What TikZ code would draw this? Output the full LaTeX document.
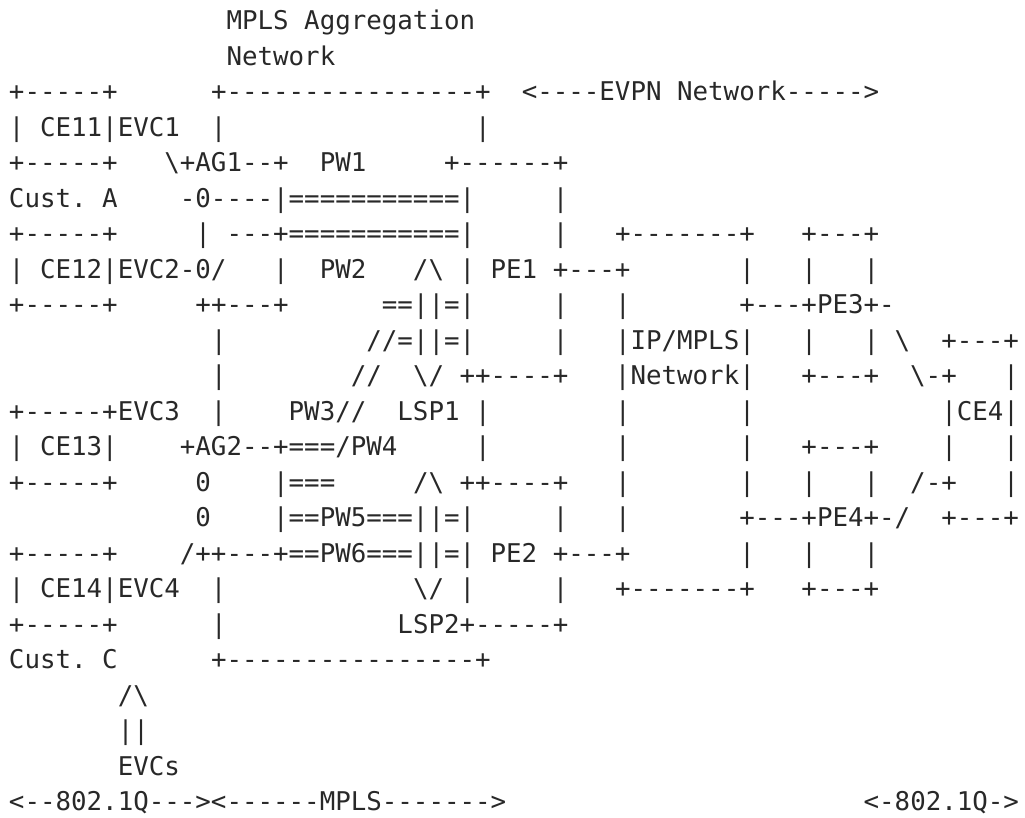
\documentclass[tikz,border=0pt]{standalone}
\usepackage{fontspec}
\setmonofont{DejaVu Sans Mono}
\definecolor{ink}{RGB}{40,40,40}
\def\bs{\textbackslash}
\tikzset{
  asc/.style={anchor=base west, inner sep=0pt, outer sep=0pt,
    font=\ttfamily\fontsize{25.81}{30}\selectfont, text=ink},
}
\begin{document}
\begin{tikzpicture}[x=1pt,y=1pt]
\useasboundingbox (0,0) rectangle (1025,-817);
\def\lx{9}
\def\ly#1{-29.5-#1*35.5}
\node[asc] (l1)  at (\lx,{\ly{0}})  {~~~~~~~~~~~~~~MPLS~Aggregation};
\node[asc] (l2)  at (\lx,{\ly{1}})  {~~~~~~~~~~~~~~Network};
\node[asc] (l3)  at (\lx,{\ly{2}})  {+-----+~~~~~~+----------------+~~<----EVPN~Network----->};
\node[asc] (l4)  at (\lx,{\ly{3}})  {|~CE11|EVC1~~|~~~~~~~~~~~~~~~~|};
\node[asc] (l5)  at (\lx,{\ly{4}})  {+-----+~~~\bs+AG1--+~~PW1~~~~~+------+};
\node[asc] (l6)  at (\lx,{\ly{5}})  {Cust.~A~~~~-0----|===========|~~~~~|};
\node[asc] (l7)  at (\lx,{\ly{6}})  {+-----+~~~~~|~---+===========|~~~~~|~~~+-------+~~~+---+};
\node[asc] (l8)  at (\lx,{\ly{7}})  {|~CE12|EVC2-0/~~~|~~PW2~~~/\bs~|~PE1~+---+~~~~~~~|~~~|~~~|};
\node[asc] (l9)  at (\lx,{\ly{8}})  {+-----+~~~~~++---+~~~~~~==||=|~~~~~|~~~|~~~~~~~+---+PE3+-};
\node[asc] (l10) at (\lx,{\ly{9}})  {~~~~~~~~~~~~~|~~~~~~~~~//=||=|~~~~~|~~~|IP/MPLS|~~~|~~~|~\bs~~+---+};
\node[asc] (l11) at (\lx,{\ly{10}}) {~~~~~~~~~~~~~|~~~~~~~~//~~\bs/~++----+~~~|Network|~~~+---+~~\bs-+~~~|};
\node[asc] (l12) at (\lx,{\ly{11}}) {+-----+EVC3~~|~~~~PW3//~~LSP1~|~~~~~~~~|~~~~~~~|~~~~~~~~~~~~|CE4|};
\node[asc] (l13) at (\lx,{\ly{12}}) {|~CE13|~~~~+AG2--+===/PW4~~~~~|~~~~~~~~|~~~~~~~|~~~+---+~~~~|~~~|};
\node[asc] (l14) at (\lx,{\ly{13}}) {+-----+~~~~~0~~~~|===~~~~~/\bs~++----+~~~|~~~~~~~|~~~|~~~|~~/-+~~~|};
\node[asc] (l15) at (\lx,{\ly{14}}) {~~~~~~~~~~~~0~~~~|==PW5===||=|~~~~~|~~~|~~~~~~~+---+PE4+-/~~+---+};
\node[asc] (l16) at (\lx,{\ly{15}}) {+-----+~~~~/++---+==PW6===||=|~PE2~+---+~~~~~~~|~~~|~~~|};
\node[asc] (l17) at (\lx,{\ly{16}}) {|~CE14|EVC4~~|~~~~~~~~~~~~\bs/~|~~~~~|~~~+-------+~~~+---+};
\node[asc] (l18) at (\lx,{\ly{17}}) {+-----+~~~~~~|~~~~~~~~~~~LSP2+-----+};
\node[asc] (l19) at (\lx,{\ly{18}}) {Cust.~C~~~~~~+----------------+};
\node[asc] (l20) at (\lx,{\ly{19}}) {~~~~~~~/\bs};
\node[asc] (l21) at (\lx,{\ly{20}}) {~~~~~~~||};
\node[asc] (l22) at (\lx,{\ly{21}}) {~~~~~~~EVCs};
\node[asc] (l23) at (\lx,{\ly{22}}) {<--802.1Q---><------MPLS------->~~~~~~~~~~~~~~~~~~~~~~~<-802.1Q->};
\end{tikzpicture}
\end{document}
